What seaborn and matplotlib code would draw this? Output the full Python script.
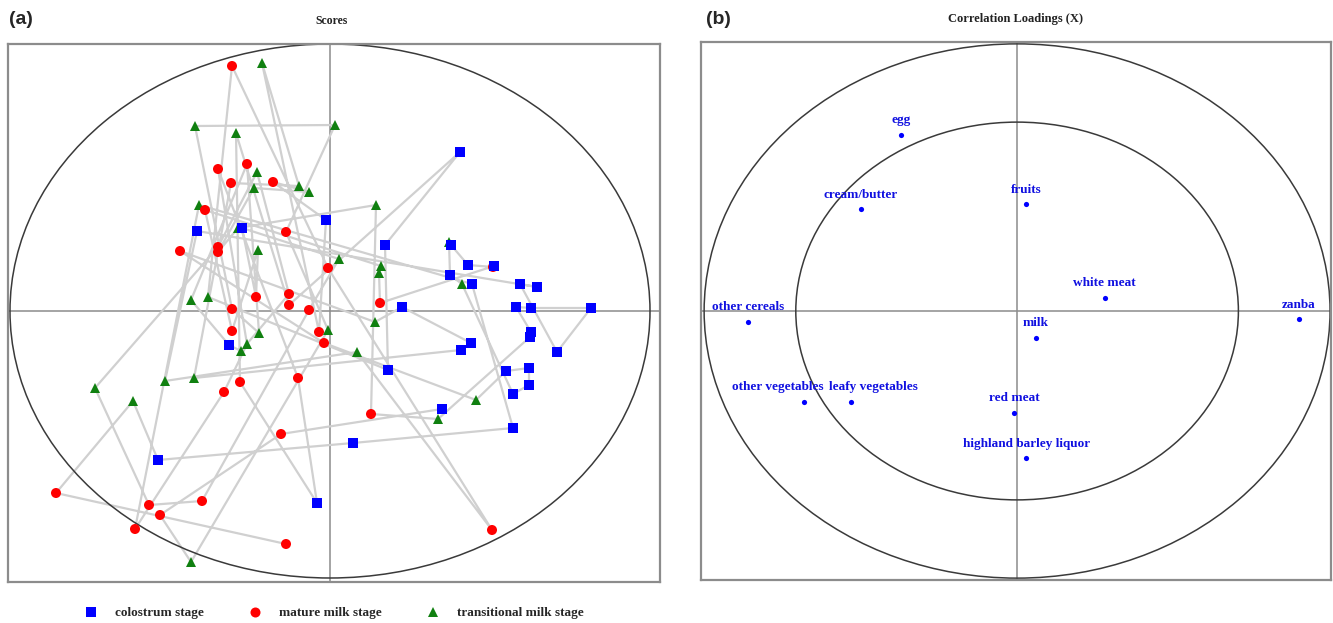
import numpy as np
import pandas as pd
import matplotlib
matplotlib.use("Agg")
import matplotlib.pyplot as plt
from matplotlib.patches import Ellipse
import seaborn as sns

# =====================================================
# Scores (samples in acquisition order, path drawn in this order)
# =====================================================

stage = [
    "mature", "mature", "transitional", "colostrum", "colostrum", "colostrum",
    "colostrum", "transitional", "mature", "mature", "transitional", "mature",
    "mature", "colostrum", "mature", "transitional", "mature", "colostrum",
    "colostrum", "colostrum", "transitional", "mature", "mature", "mature",
    "transitional", "transitional", "colostrum", "colostrum", "colostrum", "colostrum",
    "colostrum", "colostrum", "colostrum", "colostrum", "colostrum", "transitional",
    "mature", "transitional", "transitional", "mature", "transitional", "transitional",
    "mature", "colostrum", "mature", "transitional", "transitional", "mature",
    "transitional", "colostrum", "colostrum", "colostrum", "transitional", "mature",
    "mature", "transitional", "colostrum", "colostrum", "colostrum", "colostrum",
    "transitional", "colostrum", "transitional", "colostrum", "colostrum", "mature",
    "colostrum", "mature", "transitional", "transitional", "mature", "mature",
    "transitional", "mature", "colostrum", "transitional", "mature", "mature",
    "mature", "transitional", "mature", "transitional", "mature", "transitional",
    "colostrum", "transitional", "mature", "transitional", "mature", "transitional",
    "transitional", "mature", "transitional", "transitional", "mature", "mature",
    "colostrum",
]

pc1 = [
    -0.44, -2.74, -1.97, -1.72, 0.23, 1.83, 1.42, -1.31, -1.95, -1.06,
    -0.83, -1.12, -0.32, -0.13, -0.90, -0.94, -0.41, 1.30, 0.55, 0.58,
    -1.22, -0.98, -0.02, 1.62, 0.27, -1.65, -1.33, 2.07, 1.90, 2.27,
    2.61, 2.01, 1.86, 2.01, 2.00, 1.08, 0.41, 0.46, -0.92, -1.12,
    -0.76, -0.21, -0.57, -0.04, -0.11, -0.68, -0.31, -0.99, -1.36, 1.31,
    1.41, 0.72, 0.45, -1.50, -0.06, 1.46, 1.76, 1.99, 1.99, 1.83,
    1.32, 1.20, 1.19, 1.21, 1.38, 1.63, 1.64, 0.50, 0.49, 0.51,
    -1.25, -0.98, -0.72, -0.74, -0.88, 0.09, -0.21, -1.28, -1.81, -2.35,
    -1.12, -0.73, -0.41, -0.89, -1.01, -1.39, -0.83, -0.71, -0.98, -1.35,
    0.05, -0.44, -0.02, -1.39, -1.70, -0.49, 1.12,
]

pc2 = [
    -2.33, -1.82, -0.90, -1.49, -1.32, -1.17, 0.27, 1.06, -2.18, -0.81,
    -0.33, 1.42, -0.67, -1.92, -0.71, 1.78, 0.06, 1.59, 0.66, -0.59,
    0.14, 2.45, 0.43, -2.19, -0.41, -0.70, 0.80, 0.24, 0.27, -0.41,
    0.03, 0.03, 0.04, -0.21, -0.26, -1.08, -1.03, 1.06, 0.83, 0.59,
    1.23, 1.19, 1.29, 0.91, -0.21, 2.48, 1.25, 1.28, -0.67, -0.39,
    -0.32, 0.04, -0.11, 0.60, -0.32, -0.89, -0.60, -0.57, -0.74, -0.83,
    0.27, 0.36, 0.69, 0.66, 0.46, 0.44, 0.45, 0.08, 0.38, 0.45,
    1.01, -0.20, 0.61, 0.14, 0.83, 0.52, 0.01, -1.90, -1.94, -0.77,
    0.64, 1.39, 0.17, -0.40, -0.34, 0.11, 1.47, -0.22, 0.02, 1.85,
    1.86, 0.79, -0.19, -2.51, -2.04, -1.23, -0.98,
]

# =====================================================
# Correlation loadings
# =====================================================

foods = [
    "egg", "cream/butter", "fruits", "white meat", "other cereals", "zanba",
    "milk", "other vegetables", "leafy vegetables", "red meat",
    "highland barley liquor",
]
load_x = [-0.37, -0.50, 0.03, 0.28, -0.86, 0.90, 0.06, -0.68, -0.53, -0.01, 0.03]
load_y = [0.66, 0.38, 0.40, 0.05, -0.04, -0.03, -0.10, -0.34, -0.34, -0.38, -0.55]

stage_names = {
    "colostrum": "colostrum stage",
    "mature": "mature milk stage",
    "transitional": "transitional milk stage",
}

# =====================================================
# Style
# =====================================================

sns.set_style("white")
plt.rcParams["font.family"] = ["Liberation Serif", "DejaVu Serif"]

FRAME = "#8c8c8c"
SERIF_BOLD = {"family": "Liberation Serif", "weight": "bold"}

fig = plt.figure(figsize=(13.33, 6.23), dpi=100)
ax_a = fig.add_axes([8 / 1333, 1 - 582 / 623, 652 / 1333, 538 / 623])
ax_b = fig.add_axes([701 / 1333, 1 - 580 / 623, 630 / 1333, 538 / 623])

for ax in (ax_a, ax_b):
    for sp in ax.spines.values():
        sp.set_color(FRAME)
        sp.set_linewidth(1.6)
    ax.set_xticks([])
    ax.set_yticks([])

# =====================================================
# (a) Scores
# =====================================================

scores = pd.DataFrame({
    "PC1": pc1,
    "PC2": pc2,
    "stage": [stage_names[s] for s in stage],
})

ax_a.plot(scores["PC1"], scores["PC2"], color="#d0d0d0", lw=1.6, zorder=1)
ax_a.axhline(0, color=FRAME, lw=1.1, zorder=0)
ax_a.axvline(0, color=FRAME, lw=1.1, zorder=0)
ax_a.add_patch(Ellipse((0, 0), 6.40, 5.34, fill=False, ec="#3a3a3a", lw=1.1, zorder=2))

sns.scatterplot(
    data=scores,
    x="PC1",
    y="PC2",
    hue="stage",
    style="stage",
    hue_order=list(stage_names.values()),
    style_order=list(stage_names.values()),
    palette=["#0000ff", "#ff0000", "#108010"],
    markers=["s", "o", "^"],
    s=52,
    linewidth=0,
    ax=ax_a,
    zorder=3,
)

ax_a.set_xlim(-3.22, 3.30)
ax_a.set_ylim(-2.71, 2.67)
ax_a.set_xlabel("")
ax_a.set_ylabel("")

handles, labels = ax_a.get_legend_handles_labels()
ax_a.get_legend().remove()

fig.legend(
    handles,
    labels,
    loc="center",
    bbox_to_anchor=(331 / 1333, 1 - 613 / 623),
    ncol=3,
    frameon=False,
    columnspacing=2.9,
    handletextpad=0.8,
    prop={"family": "Liberation Serif", "weight": "bold", "size": 9.5},
)

# =====================================================
# (b) Correlation loadings
# =====================================================

loadings = pd.DataFrame({"x": load_x, "y": load_y, "food": foods})

ax_b.axhline(0, color=FRAME, lw=1.1, zorder=0)
ax_b.axvline(0, color=FRAME, lw=1.1, zorder=0)
ax_b.add_patch(Ellipse((0, 0), 2.0, 2.0, fill=False, ec="#3a3a3a", lw=1.1))
r50 = np.sqrt(0.5)
ax_b.add_patch(Ellipse((0, 0), 2 * r50, 2 * r50, fill=False, ec="#3a3a3a", lw=1.1))

sns.scatterplot(
    data=loadings, x="x", y="y", color="#0000ff", s=14, linewidth=0, ax=ax_b, zorder=3
)

# the two vegetable labels sit almost on top of each other; pull them apart a bit
label_align = {
    "other vegetables": ("right", 14),
    "leafy vegetables": ("left", -16),
}

for _, row in loadings.iterrows():
    ha, dx = label_align.get(row["food"], ("center", 0))
    ax_b.annotate(
        row["food"],
        (row["x"], row["y"]),
        xytext=(dx, 6),
        textcoords="offset points",
        ha=ha,
        va="bottom",
        color="#1010e0",
        fontsize=9.5,
        **SERIF_BOLD,
    )

ax_b.set_xlim(-1.01, 1.003)
ax_b.set_ylim(-1.007, 1.007)
ax_b.set_xlabel("")
ax_b.set_ylabel("")

# =====================================================
# Titles and panel tags
# =====================================================

fig.text(332 / 1333, 1 - 21 / 623, "Scores", ha="center", va="center",
         fontsize=8.5, color="#222222", **SERIF_BOLD)
fig.text(1016 / 1333, 1 - 19 / 623, "Correlation Loadings (X)", ha="center",
         va="center", fontsize=9, color="#222222", **SERIF_BOLD)
fig.text(9 / 1333, 1 - 20 / 623, "(a)", ha="left", va="center", fontsize=14,
         weight="bold", family="Liberation Sans")
fig.text(706 / 1333, 1 - 20 / 623, "(b)", ha="left", va="center", fontsize=14,
         weight="bold", family="Liberation Sans")

fig.savefig("out.png", dpi=100)
